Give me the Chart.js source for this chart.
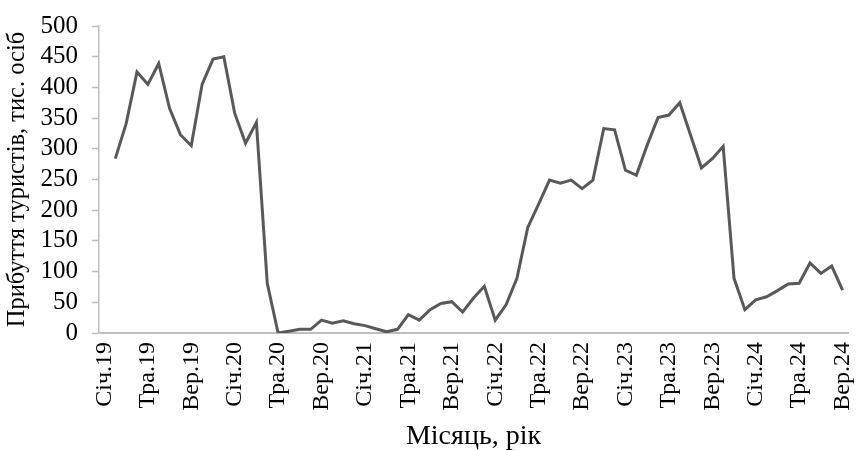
<!DOCTYPE html>
<html>
<head>
<meta charset="utf-8">
<script src="https://cdn.jsdelivr.net/npm/chart.js@4.4.1/dist/chart.umd.min.js"></script>
<style>
  html, body { margin: 0; padding: 0; background: #fff; }
  #wrap { width: 857px; height: 451px; }
</style>
</head>
<body>
<div id="wrap"><canvas id="touristChart"></canvas></div>
<script>
// ========== DATA ==========
const monthNames = ['Січ', 'Лют', 'Бер', 'Кві', 'Тра', 'Чер', 'Лип', 'Сер', 'Вер', 'Жов', 'Лис', 'Гру'];
const years = ['19', '20', '21', '22', '23', '24'];

// Січ.19 ... Вер.24
const categories = [];
years.forEach(y => monthNames.forEach(m => categories.push(m + '.' + y)));
categories.length = 69;

// arrivals, thousand persons (first month has no value on the chart)
const arrivals = [
  null,
  284, 341, 425, 405, 439, 366, 323, 305, 405, 446, 450,
  358, 309, 343, 81, 0, 3, 6, 6, 21, 16, 20, 15,
  12, 7, 2, 6, 30, 21, 38, 48, 51, 34, 57, 76,
  21, 46, 89, 172, 210, 249, 244, 249, 235, 249, 333, 331,
  265, 257, 306, 351, 355, 375, 322, 269, 284, 304, 89, 38,
  54, 59, 69, 80, 81, 114, 97, 109, 70
];

const yTicks = [0, 50, 100, 150, 200, 250, 300, 350, 400, 450, 500];

// ========== CHART ==========
const serif = 'Liberation Serif';
const axisGray = '#bfbfbf';

new Chart(document.getElementById('touristChart').getContext('2d'), {
  type: 'line',
  data: {
    labels: categories,
    datasets: [{
      data: arrivals,
      borderColor: '#595959',
      borderWidth: 3,
      pointRadius: 0,
      tension: 0,
      fill: false
    }]
  },
  options: {
    responsive: true,
    maintainAspectRatio: false,
    animation: false,
    layout: { padding: { top: 26, right: 9, left: 0, bottom: 0 } },
    plugins: { legend: { display: false }, tooltip: { enabled: false } },
    scales: {
      x: {
        offset: true,
        grid: { drawOnChartArea: false, drawTicks: false },
        border: { display: true, color: axisGray, width: 2 },
        ticks: {
          autoSkip: false,
          maxRotation: 90,
          minRotation: 90,
          padding: 9,
          color: '#000',
          font: { family: serif, size: 24 },
          callback: (v, i) => (i % 4 === 0 ? categories[i] : '')
        },
        title: {
          display: true,
          text: 'Місяць, рік',
          color: '#000',
          font: { family: serif, size: 28 },
          padding: { top: 0, bottom: -2 }
        },
        afterFit: s => {
          s.height = 118;
          s.paddingLeft = 0;
          s.paddingRight = 0;
        }
      },
      y: {
        min: 0,
        max: 500,
        afterBuildTicks: s => { s.ticks = yTicks.map(v => ({ value: v })); },
        grid: { drawOnChartArea: false, drawTicks: true, tickLength: 7, color: axisGray, tickWidth: 1.5 },
        border: { display: true, color: axisGray, width: 1.5 },
        ticks: {
          autoSkip: false,
          padding: 14,
          color: '#000',
          font: { family: serif, size: 25 }
        },
        title: {
          display: true,
          text: 'Прибуття туристів, тис. осіб',
          color: '#000',
          font: { family: serif, size: 24.5 },
          padding: { top: 3, bottom: 0 }
        },
        afterFit: s => {
          s.width = 99;
          s.paddingTop = 0;
          s.paddingBottom = 0;
        }
      }
    }
  }
});
</script>
</body>
</html>
